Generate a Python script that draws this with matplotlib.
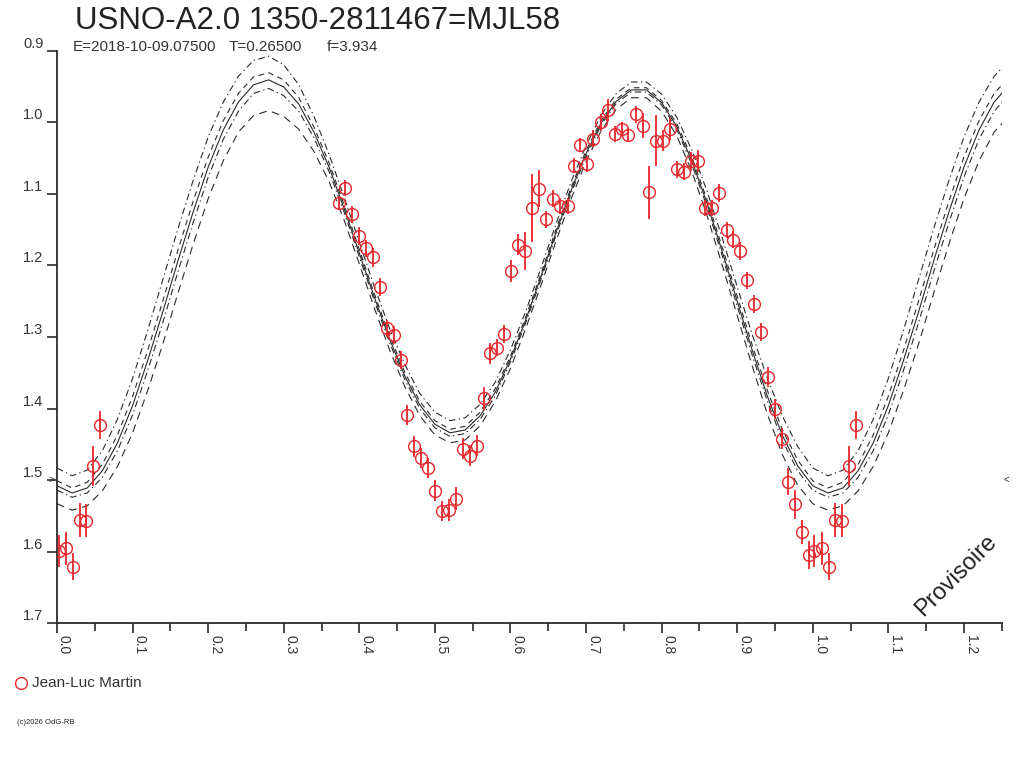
import numpy as np
import matplotlib
matplotlib.use("Agg")
import matplotlib.pyplot as plt
from matplotlib.lines import Line2D
from matplotlib.ticker import MultipleLocator, FixedLocator

# ---------------- data ----------------
title = "USNO-A2.0 1350-2811467=MJL58"
sub_E = "E=2018-10-09.07500"
sub_T = "T=0.26500"
sub_f = "f=3.934"
observer = "Jean-Luc Martin"

phase_obs = [0.002, 0.012, 0.021, 0.030, 0.039, 0.048, 0.057,
             0.3726, 0.3814, 0.3902, 0.400, 0.409, 0.418, 0.427, 0.4365, 0.4453,
             0.4546, 0.4634, 0.4727, 0.4819, 0.4907, 0.500, 0.5093, 0.519, 0.5278,
             0.537, 0.5459, 0.5556, 0.5644, 0.5732, 0.582, 0.5917, 0.6005, 0.6102,
             0.619, 0.6283, 0.638, 0.6473, 0.6561, 0.6658, 0.6755, 0.6843, 0.6918,
             0.7019, 0.7098, 0.720, 0.7288, 0.7385, 0.7474, 0.7561, 0.7659, 0.7751,
             0.7839, 0.7927, 0.8024, 0.8112, 0.8209, 0.8298, 0.8386, 0.8487, 0.8575,
             0.8664, 0.8761, 0.8862, 0.8942, 0.9039, 0.9127, 0.922, 0.9312, 0.9405,
             0.9497, 0.959, 0.9678, 0.9771, 0.9863, 0.9952]
mag_obs = [1.599, 1.595, 1.621, 1.556, 1.557, 1.480, 1.423,
           1.113, 1.092, 1.129, 1.159, 1.176, 1.189, 1.230, 1.288, 1.297,
           1.332, 1.409, 1.453, 1.469, 1.483, 1.515, 1.543, 1.542, 1.526,
           1.456, 1.466, 1.452, 1.386, 1.323, 1.315, 1.296, 1.208, 1.171,
           1.180, 1.120, 1.093, 1.136, 1.107, 1.117, 1.117, 1.061, 1.032,
           1.059, 1.023, 1.000, 0.983, 1.017, 1.010, 1.018, 0.989, 1.005,
           1.098, 1.026, 1.026, 1.010, 1.066, 1.069, 1.055, 1.054, 1.120,
           1.120, 1.099, 1.151, 1.164, 1.180, 1.221, 1.254, 1.293, 1.356,
           1.401, 1.442, 1.502, 1.534, 1.572, 1.605]
err_obs = [0.022, 0.023, 0.019, 0.024, 0.023, 0.028, 0.019,
           0.010, 0.011, 0.012, 0.012, 0.012, 0.013, 0.0125, 0.012, 0.0125,
           0.013, 0.0145, 0.0145, 0.0145, 0.0137, 0.0145, 0.014, 0.015, 0.016,
           0.0145, 0.015, 0.0145, 0.0156, 0.015, 0.012, 0.013, 0.016, 0.0145,
           0.026, 0.048, 0.026, 0.0125, 0.012, 0.011, 0.011, 0.0106, 0.0103,
           0.011, 0.012, 0.012, 0.0155, 0.011, 0.010, 0.010, 0.012, 0.0176,
           0.037, 0.036, 0.0144, 0.0156, 0.012, 0.0115, 0.013, 0.0156, 0.0115,
           0.011, 0.012, 0.0113, 0.012, 0.012, 0.012, 0.0127, 0.013, 0.0137,
           0.014, 0.015, 0.0185, 0.0197, 0.0168, 0.0197]

# model light curve over one cycle, step 0.02 in phase
phase_model = [0.00, 0.02, 0.04, 0.06, 0.08, 0.10, 0.12, 0.14, 0.16, 0.18,
               0.20, 0.22, 0.24, 0.26, 0.28, 0.30, 0.32, 0.34, 0.36, 0.38,
               0.40, 0.42, 0.44, 0.46, 0.48, 0.50, 0.52, 0.54, 0.56, 0.58,
               0.60, 0.62, 0.64, 0.66, 0.68, 0.70, 0.72, 0.74, 0.76, 0.78,
               0.80, 0.82, 0.84, 0.86, 0.88, 0.90, 0.92, 0.94, 0.96, 0.98]
mag_model = [1.508, 1.518, 1.511, 1.487, 1.448, 1.396, 1.333, 1.265, 1.194, 1.126,
             1.063, 1.011, 0.972, 0.948, 0.941, 0.951, 0.975, 1.014, 1.063, 1.121,
             1.183, 1.245, 1.303, 1.354, 1.395, 1.422, 1.434, 1.430, 1.410, 1.377,
             1.331, 1.277, 1.217, 1.155, 1.096, 1.044, 1.001, 0.971, 0.955, 0.955,
             0.973, 1.006, 1.054, 1.113, 1.180, 1.250, 1.319, 1.383, 1.438, 1.480]
# envelope half-widths (upper = brighter side, lower = fainter side)
outer_up = [0.025, 0.024, 0.025, 0.028, 0.033, 0.038, 0.042, 0.045, 0.045, 0.044,
            0.042, 0.039, 0.036, 0.034, 0.033, 0.031, 0.027, 0.022, 0.018, 0.016,
            0.015, 0.015, 0.015, 0.016, 0.016, 0.017, 0.017, 0.017, 0.016, 0.014,
            0.013, 0.012, 0.012, 0.012, 0.012, 0.011, 0.011, 0.011, 0.011, 0.011,
            0.012, 0.013, 0.015, 0.017, 0.019, 0.020, 0.022, 0.025, 0.027, 0.027]
outer_dn = [0.025, 0.024, 0.025, 0.028, 0.033, 0.038, 0.042, 0.045, 0.045, 0.045,
            0.044, 0.043, 0.042, 0.043, 0.043, 0.041, 0.035, 0.027, 0.020, 0.016,
            0.015, 0.015, 0.015, 0.015, 0.015, 0.015, 0.014, 0.014, 0.014, 0.013,
            0.013, 0.012, 0.012, 0.012, 0.012, 0.011, 0.011, 0.011, 0.011, 0.011,
            0.012, 0.013, 0.015, 0.017, 0.019, 0.020, 0.022, 0.025, 0.027, 0.027]
inner_up = [0.007, 0.007, 0.008, 0.009, 0.011, 0.013, 0.014, 0.015, 0.015, 0.015,
            0.014, 0.013, 0.012, 0.011, 0.010, 0.010, 0.009, 0.007, 0.006, 0.005,
            0.005, 0.005, 0.005, 0.005, 0.005, 0.005, 0.005, 0.005, 0.005, 0.005,
            0.004, 0.004, 0.004, 0.004, 0.004, 0.004, 0.003, 0.003, 0.003, 0.003,
            0.003, 0.004, 0.005, 0.005, 0.006, 0.007, 0.007, 0.008, 0.008, 0.008]
inner_dn = [0.006, 0.006, 0.007, 0.009, 0.011, 0.013, 0.014, 0.015, 0.015, 0.015,
            0.014, 0.013, 0.013, 0.012, 0.012, 0.012, 0.010, 0.008, 0.006, 0.005,
            0.005, 0.005, 0.005, 0.005, 0.005, 0.005, 0.005, 0.005, 0.005, 0.005,
            0.004, 0.004, 0.004, 0.004, 0.004, 0.004, 0.003, 0.003, 0.003, 0.003,
            0.003, 0.004, 0.005, 0.005, 0.006, 0.007, 0.007, 0.007, 0.007, 0.007]

x_major = [0.0, 0.1, 0.2, 0.3, 0.4, 0.5, 0.6, 0.7, 0.8, 0.9, 1.0, 1.1, 1.2]
y_major = [0.9, 1.0, 1.1, 1.2, 1.3, 1.4, 1.5, 1.6, 1.7]

# ---------------- figure ----------------
plt.rcParams['font.family'] = ['Liberation Sans', 'DejaVu Sans']
W, H = 1024, 768
fig = plt.figure(figsize=(W / 100, H / 100), dpi=100)
fig.patch.set_facecolor('white')
ax = fig.add_axes([57 / W, 1 - 623.3 / H, (1001.7 - 57) / W, (623.3 - 50.5) / H])

red = '#e8262b'
ink = '#2a2a2a'

# model curves, tiled over the visible phase range
pm = np.array(phase_model)
mm = np.array(mag_model)
n_rep = int(np.sum(pm <= 0.26))
px = np.concatenate([pm, pm[:n_rep] + 1.0])

def tile(a):
    a = np.asarray(a)
    return np.concatenate([a, a[:n_rep]])

c = tile(mm)
curves = [
    (c - tile(outer_up), (0, (6, 3, 1.2, 3))),
    (c - tile(inner_up), (0, (5, 4))),
    (c, '-'),
    (c + tile(inner_dn), (0, (6, 3, 1.2, 3))),
    (c + tile(outer_dn), (0, (7, 5))),
]
for yy, ls in curves:
    ax.plot(px, yy, color=ink, lw=0.8, linestyle=ls, zorder=2)

# observations (repeat the first part of the cycle after phase 1)
ph = np.array(phase_obs)
mg = np.array(mag_obs)
er = np.array(err_obs)
rep = ph < 0.06
ph_all = np.concatenate([ph, ph[rep] + 1.0])
mg_all = np.concatenate([mg, mg[rep]])
er_all = np.concatenate([er, er[rep]])
ax.errorbar(ph_all, mg_all, yerr=er_all, fmt='o', ms=8.5, mfc='none', mec=red,
            mew=1.0, ecolor=red, elinewidth=1.3, capsize=0, zorder=3)

ax.set_xlim(0, 1.25)
ax.set_ylim(1.7, 0.9)
for s in ['top', 'right']:
    ax.spines[s].set_visible(False)
for s in ['left', 'bottom']:
    ax.spines[s].set_color(ink)
    ax.spines[s].set_linewidth(1.3)

ax.xaxis.set_major_locator(FixedLocator(x_major))
ax.xaxis.set_minor_locator(MultipleLocator(0.05))
ax.set_xticklabels([f"{v:.1f}" for v in x_major])
ax.set_yticks(y_major)
ax.set_yticklabels([f"{v:.1f}" for v in y_major])
ax.tick_params(axis='x', which='major', direction='out', length=7.2, width=1.2,
               color=ink, pad=1, labelsize=10, labelcolor='#333333')
ax.tick_params(axis='x', which='minor', direction='out', length=6, width=1.2, color=ink)
ax.tick_params(axis='y', which='major', direction='out', length=7.2, width=1.2,
               color=ink, pad=2.5, labelsize=10.5, labelcolor='#333333')
for lab in ax.get_xticklabels():
    lab.set_rotation(270)
    lab.set_ha('left')
    lab.set_va('top')
for lab in ax.get_yticklabels():
    lab.set_va('bottom')

# small markers at mag 1.5 on both sides
ax.text(-0.006, 1.5, '>', transform=ax.get_yaxis_transform(), ha='center',
        va='center', fontsize=7, color=ink, clip_on=False)
ax.text(1.005, 1.5, '<', transform=ax.get_yaxis_transform(), ha='center',
        va='center', fontsize=7, color=ink, clip_on=False)

# texts
fig.text(75 / W, 1 - 21 / H, title, fontsize=22.5, color='#222222', ha='left', va='center')
fig.text(73 / W, 1 - 47 / H, sub_E, fontsize=11, color='#333333', ha='left', va='center')
fig.text(229 / W, 1 - 47 / H, sub_T, fontsize=11, color='#333333', ha='left', va='center')
fig.text(327 / W, 1 - 47 / H, sub_f, fontsize=11, color='#333333', ha='left', va='center')

fig.text(956 / W, 1 - 576 / H, 'Provisoire', fontsize=17, rotation=45, color='#222222',
         ha='center', va='center')

fig.add_artist(Line2D([21 / W], [1 - 683 / H], marker='o', ms=8.5, mfc='none', mec=red,
                      mew=1.0, linestyle='none', transform=fig.transFigure))
fig.text(32 / W, 1 - 683 / H, observer, fontsize=11, color='#333333', ha='left', va='center')
fig.text(17 / W, 1 - 722 / H, '(c)2026 OdG-RB', fontsize=5.5, color='#222222',
         ha='left', va='center')

fig.savefig('out.png', dpi=100, facecolor='white')
